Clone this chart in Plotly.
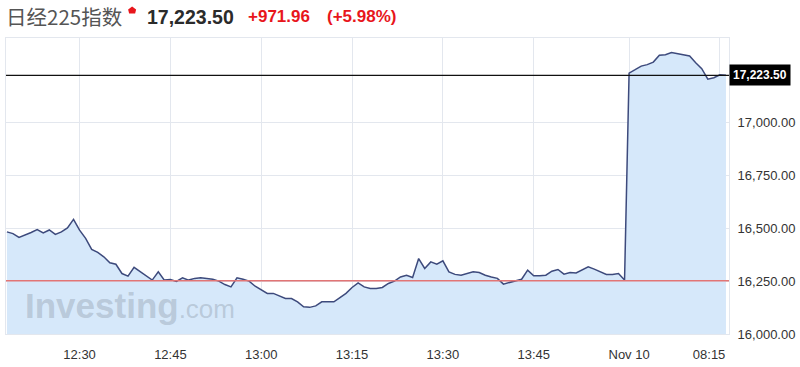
import plotly.graph_objects as go

# ---------------- data ----------------
day1_start = "12:18"
day1_values = [
    16483, 16475, 16457, 16467, 16480, 16494, 16478, 16492, 16471, 16483,
    16502, 16542, 16491, 16452, 16400, 16386, 16365, 16337, 16330, 16286,
    16274, 16315, 16294, 16277, 16255, 16294, 16255, 16258, 16249, 16266,
    16255, 16263, 16266, 16263, 16259, 16250, 16234, 16223, 16266, 16259,
    16250, 16226, 16207, 16192, 16192, 16179, 16168, 16168, 16152, 16129,
    16126, 16133, 16152, 16152, 16152, 16172, 16192, 16220, 16242, 16223,
    16215, 16215, 16220, 16239, 16250, 16270, 16278, 16267, 16357, 16310,
    16341, 16330, 16346, 16294, 16282, 16278, 16286, 16294, 16291, 16278,
    16270, 16263, 16236, 16243, 16253, 16259, 16302, 16275, 16275, 16278,
    16297, 16305, 16283, 16291, 16289, 16305, 16318, 16307, 16294, 16282,
    16282, 16286, 16255,
]
day2_start = "08:00"
day2_values = [
    17234, 17250, 17267, 17274, 17286, 17318, 17321, 17331, 17326, 17318,
    17315, 17283, 17255, 17205, 17212, 17226, 17223.5,
]
day1_ticks = ["12:30", "12:45", "13:00", "13:15", "13:30", "13:45"]
day2_ticks = ["08:00", "08:15"]
day2_tick_labels = ["Nov 10", "08:15\u2007\u2007\u2007"]
y_ticks = [16000, 16250, 16500, 16750, 17000]

title_name = "日经225指数"
last_price = 17223.50
change = 971.96
change_pct = 5.98
prev_close = last_price - change

# ---------------- scale helpers ----------------
def minutes(hhmm):
    h, m = hhmm.split(":")
    return int(h) * 60 + int(m)

DAY1_ORIGIN = minutes("12:00")
DAY1_CLOSE = minutes("14:00")
SESSION_GAP = 0.75  # compressed overnight gap (minutes of axis space)
DAY2_ORIGIN = minutes("08:00")

def x_day1(hhmm):
    return minutes(hhmm) - DAY1_ORIGIN

def x_day2(hhmm):
    return (DAY1_CLOSE - DAY1_ORIGIN) + SESSION_GAP + minutes(hhmm) - DAY2_ORIGIN

x1_0 = x_day1(day1_start)
x2_0 = x_day2(day2_start)
xs = [x1_0 + i for i in range(len(day1_values))] + [x2_0 + i for i in range(len(day2_values))]
ys = day1_values + day2_values

tickvals = [x_day1(t) for t in day1_ticks] + [x_day2(t) for t in day2_ticks]
ticktext = day1_ticks + day2_tick_labels

# layout geometry (pixels)
W, H = 800, 367
ML, MR, MT, MB = 5, 67, 38, 33
PW, PH = W - ML - MR, H - MT - MB

def px(xp):
    return (xp - ML) / PW

def py(yp):
    return (H - MB - yp) / PH

x_min = xs[0] - 0.15
x_max = xs[-1] + 0.5

GRID = "#e3e7ee"
FONT = "Liberation Sans, Arial, sans-serif"
RED = "#e8161c"

fig = go.Figure()
fig.add_trace(go.Scatter(
    x=xs, y=ys, mode="lines",
    line=dict(color="#3d4a7c", width=1.5),
    fill="tozeroy", fillcolor="#d6e8fa",
    hoverinfo="skip", showlegend=False,
))

fig.update_layout(
    width=W, height=H,
    margin=dict(l=ML, r=MR, t=MT, b=MB),
    paper_bgcolor="white", plot_bgcolor="white",
    font=dict(family=FONT, color="#333", size=13),
    xaxis=dict(
        range=[x_min, x_max], tickmode="array", tickvals=tickvals, ticktext=ticktext,
        showgrid=True, gridcolor=GRID, gridwidth=1, zeroline=False,
        showline=True, mirror=True, linecolor=GRID, ticks="", ticklabelstandoff=8,
        tickfont=dict(size=13, color="#333", family=FONT),
    ),
    yaxis=dict(
        range=[16000, 17400], side="right", tickmode="array", tickvals=y_ticks,
        tickformat=",.2f", showgrid=True, gridcolor=GRID, gridwidth=1, zeroline=False,
        showline=True, mirror=True, linecolor=GRID, ticks="", ticklabelstandoff=5,
        tickfont=dict(size=13, color="#333", family=FONT),
    ),
)

# reference lines
fig.add_shape(type="line", xref="paper", x0=0, x1=1, yref="y", y0=prev_close, y1=prev_close,
              line=dict(color="#e27575", width=1.5), layer="above")
fig.add_shape(type="line", xref="paper", x0=0, x1=1, yref="y", y0=last_price, y1=last_price,
              line=dict(color="#111", width=1.2), layer="above")

# last price label
fig.add_annotation(xref="paper", x=1, yref="y", y=last_price, xanchor="left", yanchor="middle",
                   text=f"<b>{last_price:,.2f}</b>", showarrow=False,
                   font=dict(color="white", size=12, family=FONT),
                   bgcolor="black", borderpad=3)

# watermark
fig.add_annotation(xref="paper", yref="paper", x=px(22), y=py(319), xanchor="left", yanchor="bottom",
                   text="<b>Investing</b><span style='font-size:26px'>.com</span>",
                   showarrow=False, yshift=-8,
                   font=dict(size=35, color="rgba(140,152,168,0.40)", family=FONT))

# header
fig.add_annotation(xref="paper", yref="paper", x=px(3), y=py(16), xanchor="left", yanchor="middle",
                   text=title_name, showarrow=False,
                   font=dict(size=20.5, color="#555", family="Noto Sans CJK SC"))
fig.add_shape(type="path", xref="paper", yref="paper",
              path=f"M {px(132)} {py(6.5)} L {px(136)} {py(9.5)} L {px(135)} {py(13.5)} "
                   f"L {px(129)} {py(13.5)} L {px(128)} {py(9.5)} Z",
              fillcolor=RED, line=dict(width=0))
fig.add_annotation(xref="paper", yref="paper", x=px(145), y=py(17), xanchor="left", yanchor="middle",
                   text=f"<b>{last_price:,.2f}</b>", showarrow=False,
                   font=dict(size=19.5, color="#2b2b2b", family=FONT))
fig.add_annotation(xref="paper", yref="paper", x=px(247), y=py(17), xanchor="left", yanchor="middle",
                   text=f"<b>+{change:,.2f}</b>", showarrow=False,
                   font=dict(size=17, color=RED, family=FONT))
fig.add_annotation(xref="paper", yref="paper", x=px(326), y=py(17), xanchor="left", yanchor="middle",
                   text=f"<b>(+{change_pct:.2f}%)</b>", showarrow=False,
                   font=dict(size=17, color=RED, family=FONT))

fig.write_html("out.html")
